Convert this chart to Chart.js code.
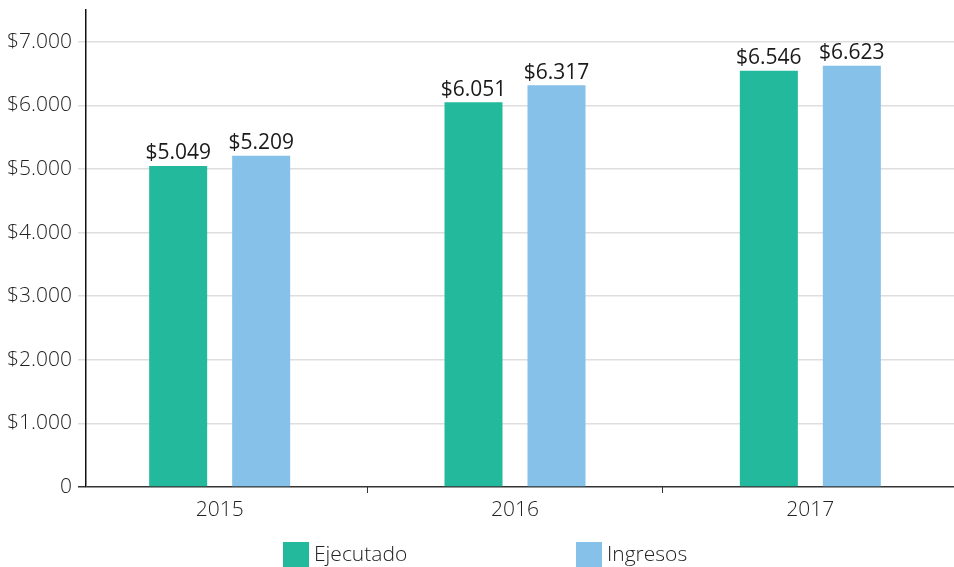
<!DOCTYPE html>
<html>
<head>
<meta charset="utf-8">
<script src="https://cdn.jsdelivr.net/npm/chart.js@4.4.1/dist/chart.umd.min.js"></script>
<style>
  html, body { margin: 0; padding: 0; background: #fff; }
  #wrap { width: 954px; height: 567px; position: relative; }
</style>
</head>
<body>
<div id="wrap"><canvas id="budgetChart"></canvas></div>
<script>
// Chart data
const years = ['2015', '2016', '2017'];
const ejecutado = [5049, 6051, 6546];
const ingresos = [5209, 6317, 6623];
const seriesNames = ['Ejecutado', 'Ingresos'];
const yTickValues = [0, 1000, 2000, 3000, 4000, 5000, 6000, 7000];

const FONT = '"Open Sans", "DejaVu Sans", sans-serif';

// Spanish style thousands separator
function money(v) {
    const s = String(Math.round(v)).replace(/\B(?=(\d{3})+(?!\d))/g, '.');
    return '$' + s;
}

// The category band in the original runs a bit wider than the plot box
const widenCategories = {
    id: 'widenCategories',
    afterLayout(chart) {
        const x = chart.scales.x;
        x.left = 72;
        x.right = 958;
        x.width = x.right - x.left;
        x.configure();
    }
};

// Value labels over the bars
const barLabels = {
    id: 'barLabels',
    afterDatasetsDraw(chart) {
        const ctx = chart.ctx;
        ctx.save();
        ctx.font = '400 21px ' + FONT;
        ctx.fillStyle = '#1a1a1a';
        ctx.textAlign = 'center';
        ctx.textBaseline = 'bottom';
        chart.data.datasets.forEach((ds, i) => {
            chart.getDatasetMeta(i).data.forEach((bar, j) => {
                ctx.fillText(money(ds.data[j]), bar.x, bar.y - 2);
            });
        });
        ctx.restore();
    }
};

// Legend drawn at the bottom, spaced like the original
const bottomLegend = {
    id: 'bottomLegend',
    afterDraw(chart) {
        const ctx = chart.ctx;
        const starts = [283, 576];
        ctx.save();
        ctx.font = '300 21px ' + FONT;
        ctx.textBaseline = 'middle';
        ctx.textAlign = 'left';
        chart.data.datasets.forEach((ds, i) => {
            const x = starts[i];
            ctx.fillStyle = ds.backgroundColor;
            ctx.fillRect(x, 542, 26, 25);
            ctx.fillStyle = '#222';
            ctx.fillText(ds.label, x + 31, 555);
        });
        ctx.restore();
    }
};

new Chart(document.getElementById('budgetChart'), {
    type: 'bar',
    data: {
        labels: years,
        datasets: [
            { label: seriesNames[0], data: ejecutado, backgroundColor: '#22B99D' },
            { label: seriesNames[1], data: ingresos, backgroundColor: '#85C1E9' }
        ]
    },
    options: {
        responsive: true,
        maintainAspectRatio: false,
        animation: false,
        categoryPercentage: 0.562,
        barPercentage: 0.699,
        layout: { padding: { top: 10, left: 0, right: 0, bottom: 0 } },
        plugins: {
            legend: { display: false },
            tooltip: { enabled: false }
        },
        scales: {
            x: {
                afterFit: (scale) => {
                    scale.height = 80;
                    scale.paddingLeft = 0;
                    scale.paddingRight = 0;
                },
                border: { display: false },
                grid: {
                    drawOnChartArea: false,
                    drawTicks: true,
                    tickLength: 6,
                    color: (c) => (c.index === 1 || c.index === 2) ? '#333' : 'rgba(0,0,0,0)',
                    lineWidth: 1
                },
                ticks: {
                    padding: 4,
                    color: '#222',
                    font: { family: FONT, size: 21, weight: '300' }
                }
            },
            y: {
                min: 0,
                max: 7500,
                afterFit: (scale) => {
                    scale.width = 86;
                    scale.paddingTop = 0;
                    scale.paddingBottom = 0;
                },
                afterBuildTicks: (scale) => {
                    scale.ticks = yTickValues.map(v => ({ value: v }));
                },
                border: { display: true, color: '#111', width: 1.5 },
                grid: {
                    tickLength: 8,
                    lineWidth: (c) => c.tick && c.tick.value === 0 ? 1.5 : 1.5,
                    color: (c) => c.tick && c.tick.value === 0 ? '#333' : '#dedede'
                },
                ticks: {
                    padding: 6,
                    color: '#222',
                    font: { family: FONT, size: 21, weight: '300' },
                    callback: (v) => v === 0 ? '0' : money(v)
                }
            }
        }
    },
    plugins: [widenCategories, barLabels, bottomLegend]
});
</script>
</body>
</html>
